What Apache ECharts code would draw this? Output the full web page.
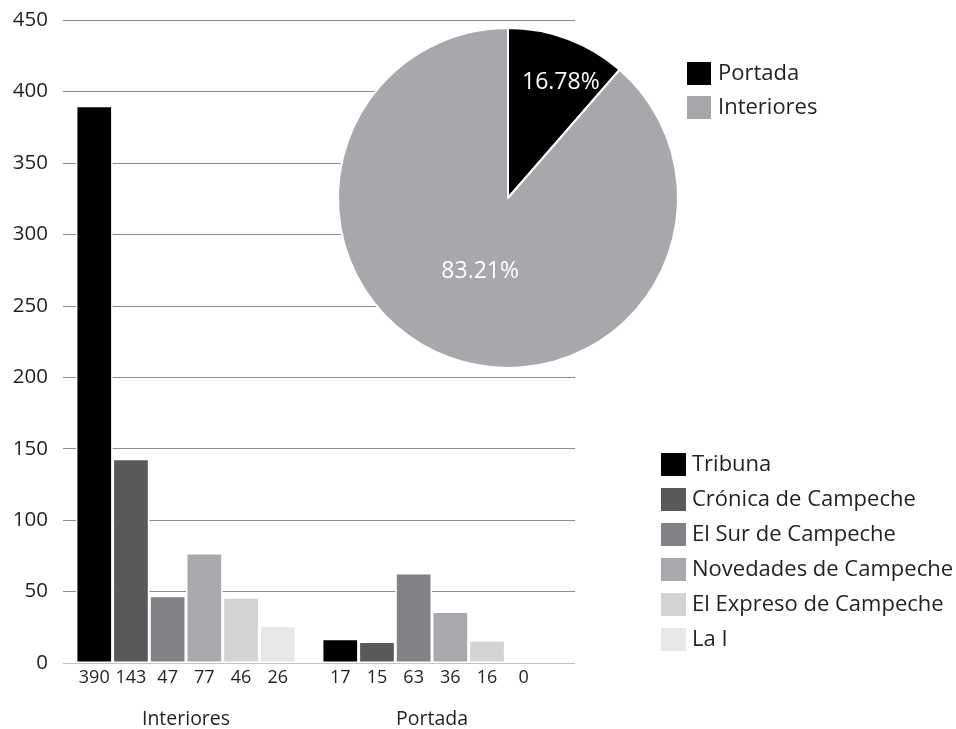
<!DOCTYPE html>
<html>
<head>
<meta charset="utf-8">
<script src="https://cdn.jsdelivr.net/npm/echarts@6/dist/echarts.min.js"></script>
<style>
html,body{margin:0;padding:0;background:#fff;}
#chart{width:956px;height:729px;}
</style>
</head>
<body>
<div id="chart"></div>
<script>
// ---- data ----
const categories = ['Interiores', 'Portada'];
const newspapers = ['Tribuna', 'Crónica de Campeche', 'El Sur de Campeche', 'Novedades de Campeche', 'El Expreso de Campeche', 'La I'];
const interioresValues = [390, 143, 47, 77, 46, 26];
const portadaValues = [17, 15, 63, 36, 16, 0];
const pieNames = ['Portada', 'Interiores'];
const pieSlices = [11.4, 88.6];          // slice sizes as drawn in the picture
const pieLabels = ['16.78%', '83.21%'];  // printed percentages
const yMin = 0, yMax = 450, yInterval = 50;

// ---- styles ----
const barColors = ['#000000', '#58595b', '#808285', '#a7a9ac', '#d1d3d4', '#e6e7e8'];
const pieColors = ['#000000', '#a7a8ab'];
const FONT = 'Open Sans';
const TXT = '#231f20';

const chart = echarts.init(document.getElementById('chart'), null, {renderer: 'canvas'});

const barSeries = newspapers.map((name, i) => ({
  name: name,
  type: 'bar',
  xAxisIndex: 0,
  yAxisIndex: 0,
  barGap: '0%',
  barCategoryGap: '10.5%',
  data: [interioresValues[i], portadaValues[i]].map(v => (
    v === 0 ? {value: v, itemStyle: {borderWidth: 0}} : v
  )),
  itemStyle: {color: barColors[i], borderColor: '#ffffff', borderWidth: 1.5},
  label: {
    show: true, position: 'bottom', distance: 6,
    fontFamily: FONT, fontSize: 18, color: TXT,
    formatter: '{c}'
  },
  emphasis: {disabled: true},
  silent: true
}));

const splitColors = ['#c4c4c4'].concat(new Array(9).fill('#8c8c8c'));

const option = {
  animation: false,
  backgroundColor: '#ffffff',
  textStyle: {fontFamily: FONT},
  grid: [
    {left: 63, right: 401, top: 20, bottom: 66},
    {left: 63, right: 381, top: 20, bottom: 66}
  ],
  xAxis: [
    {
      type: 'category', gridIndex: 0, data: categories,
      axisLine: {show: false}, axisTick: {show: false},
      axisLabel: {margin: 46, fontFamily: FONT, fontSize: 19.5, color: TXT}
    },
    {type: 'category', gridIndex: 1, data: categories, show: false}
  ],
  yAxis: [
    {type: 'value', gridIndex: 0, min: yMin, max: yMax, interval: yInterval, show: false},
    {
      type: 'value', gridIndex: 1, min: yMin, max: yMax, interval: yInterval,
      axisLine: {show: false}, axisTick: {show: false},
      axisLabel: {margin: 15, fontFamily: FONT, fontSize: 20.5, color: TXT},
      splitLine: {show: true, lineStyle: {color: splitColors, width: 1}}
    }
  ],
  legend: [
    {
      data: pieNames,
      orient: 'vertical', left: 682, top: 57,
      itemWidth: 24, itemHeight: 23, itemGap: 11,
      icon: 'rect',
      itemStyle: {borderWidth: 0},
      textStyle: {fontFamily: FONT, fontSize: 22, color: TXT, padding: [0, 0, 0, 2]},
      selectedMode: false
    },
    {
      data: newspapers,
      orient: 'vertical', left: 656, top: 448,
      itemWidth: 25, itemHeight: 23, itemGap: 12,
      icon: 'rect',
      itemStyle: {borderWidth: 0},
      textStyle: {fontFamily: FONT, fontSize: 22, color: TXT, padding: [0, 0, 0, 1]},
      selectedMode: false
    }
  ],
  series: barSeries.concat([{
    name: 'share',
    type: 'pie',
    center: [508, 198],
    radius: 170,
    startAngle: 90,
    clockwise: true,
    silent: true,
    emphasis: {disabled: true},
    itemStyle: {borderColor: '#ffffff', borderWidth: 2},
    label: {
      show: true, position: 'inside',
      fontFamily: FONT, fontSize: 23, color: '#ffffff',
      formatter: p => pieLabels[p.dataIndex]
    },
    labelLine: {show: false},
    labelLayout: p => (p.dataIndex === 0 ? {dx: 22, dy: -33} : {dx: 3, dy: -9}),
    data: pieNames.map((n, i) => ({name: n, value: pieSlices[i], itemStyle: {color: pieColors[i]}}))
  }])
};

chart.setOption(option);
</script>
</body>
</html>
